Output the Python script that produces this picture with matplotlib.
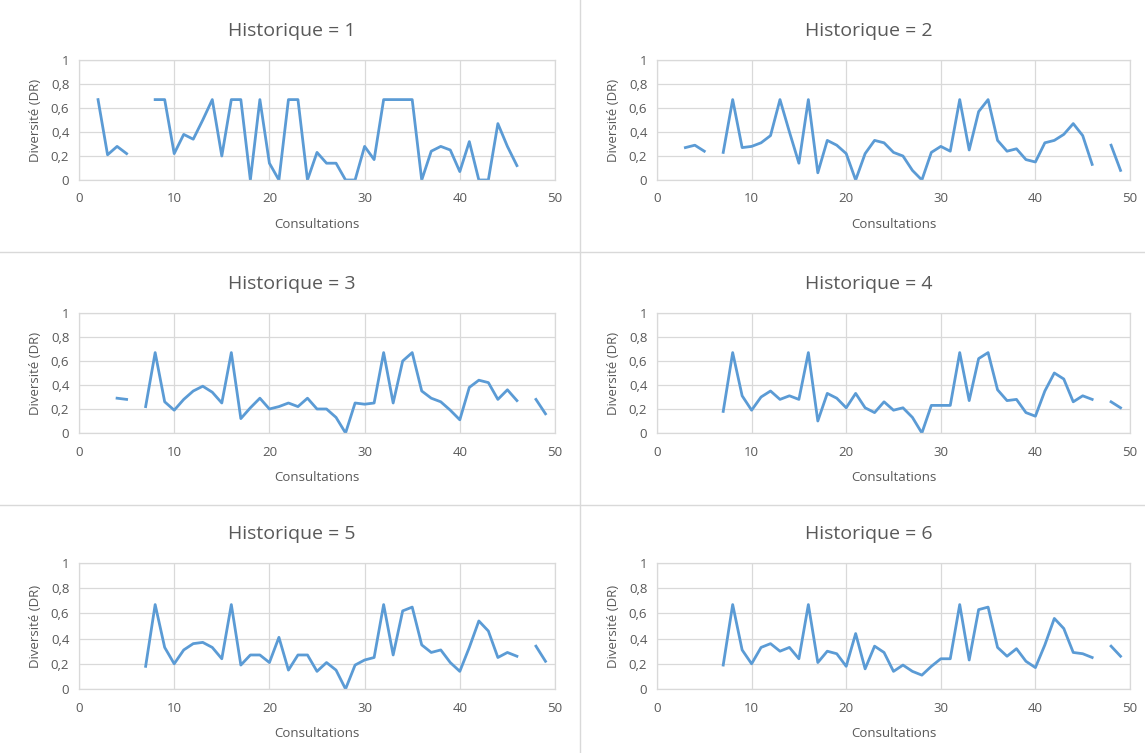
import numpy as np
import matplotlib
matplotlib.use("Agg")
import matplotlib.pyplot as plt
from matplotlib.ticker import FuncFormatter
from matplotlib.lines import Line2D

nan = np.nan
consultations = np.arange(1, 50)

# one value per consultation 1..49, nan = missing
h1 = [nan, 0.67, 0.21, 0.28, 0.22, nan, nan, 0.67, 0.67, 0.22,
      0.38, 0.34, 0.50, 0.67, 0.20, 0.67, 0.67, 0.00, 0.67, 0.14,
      0.00, 0.67, 0.67, 0.00, 0.23, 0.14, 0.14, 0.00, 0.00, 0.28,
      0.17, 0.67, 0.67, 0.67, 0.67, 0.00, 0.24, 0.28, 0.25, 0.07,
      0.32, 0.00, 0.00, 0.47, 0.28, 0.12, nan, nan, nan]
h2 = [nan, nan, 0.27, 0.29, 0.24, nan, 0.23, 0.67, 0.27, 0.28,
      0.31, 0.37, 0.67, 0.40, 0.14, 0.67, 0.06, 0.33, 0.29, 0.22,
      0.00, 0.22, 0.33, 0.31, 0.23, 0.20, 0.08, 0.00, 0.23, 0.28,
      0.24, 0.67, 0.25, 0.57, 0.67, 0.33, 0.24, 0.26, 0.17, 0.15,
      0.31, 0.33, 0.38, 0.47, 0.37, 0.13, nan, 0.29, 0.08]
h3 = [nan, nan, nan, 0.29, 0.28, nan, 0.22, 0.67, 0.26, 0.19,
      0.28, 0.35, 0.39, 0.34, 0.25, 0.67, 0.12, 0.21, 0.29, 0.20,
      0.22, 0.25, 0.22, 0.29, 0.20, 0.20, 0.13, 0.00, 0.25, 0.24,
      0.25, 0.67, 0.25, 0.60, 0.67, 0.35, 0.29, 0.26, 0.19, 0.11,
      0.38, 0.44, 0.42, 0.28, 0.36, 0.27, nan, 0.28, 0.16]
h4 = [nan, nan, nan, nan, nan, nan, 0.18, 0.67, 0.31, 0.19,
      0.30, 0.35, 0.28, 0.31, 0.28, 0.67, 0.10, 0.33, 0.29, 0.21,
      0.33, 0.21, 0.17, 0.26, 0.19, 0.21, 0.13, 0.00, 0.23, 0.23,
      0.23, 0.67, 0.27, 0.62, 0.67, 0.36, 0.27, 0.28, 0.17, 0.14,
      0.35, 0.50, 0.45, 0.26, 0.31, 0.28, nan, 0.26, 0.21]
h5 = [nan, nan, nan, nan, nan, nan, 0.18, 0.67, 0.33, 0.20,
      0.31, 0.36, 0.37, 0.33, 0.24, 0.67, 0.19, 0.27, 0.27, 0.21,
      0.41, 0.15, 0.27, 0.27, 0.14, 0.21, 0.15, 0.00, 0.19, 0.23,
      0.25, 0.67, 0.27, 0.62, 0.65, 0.35, 0.29, 0.31, 0.21, 0.14,
      0.33, 0.54, 0.46, 0.25, 0.29, 0.26, nan, 0.34, 0.22]
h6 = [nan, nan, nan, nan, nan, nan, 0.19, 0.67, 0.31, 0.20,
      0.33, 0.36, 0.30, 0.33, 0.24, 0.67, 0.21, 0.30, 0.28, 0.18,
      0.44, 0.16, 0.34, 0.29, 0.14, 0.19, 0.14, 0.11, 0.18, 0.24,
      0.24, 0.67, 0.23, 0.63, 0.65, 0.33, 0.26, 0.32, 0.22, 0.17,
      0.35, 0.56, 0.48, 0.29, 0.28, 0.25, nan, 0.34, 0.26]

series = [h1, h2, h3, h4, h5, h6]
titles = ["Historique = %d" % (i + 1) for i in range(6)]

plt.rcParams['font.family'] = ['Open Sans', 'DejaVu Sans']
text_col = "#595959"
grid_col = "#D9D9D9"
line_col = "#5B9BD5"

fig = plt.figure(figsize=(11.45, 7.53), dpi=100)

# axes boxes in pixels: (left, right) and (top of 1, bottom of 0)
cols = [(79, 555), (657, 1130)]
rows = [(60, 180), (313, 433), (563, 689)]
W, H = 1145, 753

comma = FuncFormatter(lambda v, p: ("%g" % v).replace(".", ","))

for i, vals in enumerate(series):
    r, c = divmod(i, 2)
    x0, x1 = cols[c]
    y1, y0 = rows[r]
    ax = fig.add_axes([x0 / W, 1 - y0 / H, (x1 - x0) / W, (y0 - y1) / H])
    ax.plot(consultations, vals, color=line_col, lw=2)
    ax.set_xlim(0, 50)
    ax.set_ylim(0, 1)
    ax.set_xticks(np.arange(0, 51, 10))
    ax.set_yticks(np.arange(0, 1.01, 0.2))
    ax.yaxis.set_major_formatter(comma)
    ax.grid(True, color=grid_col, lw=0.9)
    ax.set_axisbelow(True)
    for s in ax.spines.values():
        s.set_color(grid_col)
        s.set_linewidth(0.9)
    ax.tick_params(length=0, labelsize=9.5, colors=text_col)
    ax.tick_params(axis='x', pad=9)
    ax.tick_params(axis='y', pad=7)
    # title is centred on the whole chart block, a bit left of the plot area
    ax.set_title(titles[i], fontsize=14, color=text_col, pad=17, x=0.447)
    ax.set_xlabel("Consultations", fontsize=9.5, color=text_col, labelpad=9)
    ax.set_ylabel("Diversité (DR)", fontsize=9.5, color=text_col, labelpad=6)

# separator lines between panels
sep = "#D9D9D9"
fig.add_artist(Line2D([580 / W, 580 / W], [0, 1], color=sep, lw=1))
for yy in (252, 505):
    fig.add_artist(Line2D([0, 1], [1 - yy / H, 1 - yy / H], color=sep, lw=1))

fig.savefig("out.png", dpi=100, facecolor="white")
